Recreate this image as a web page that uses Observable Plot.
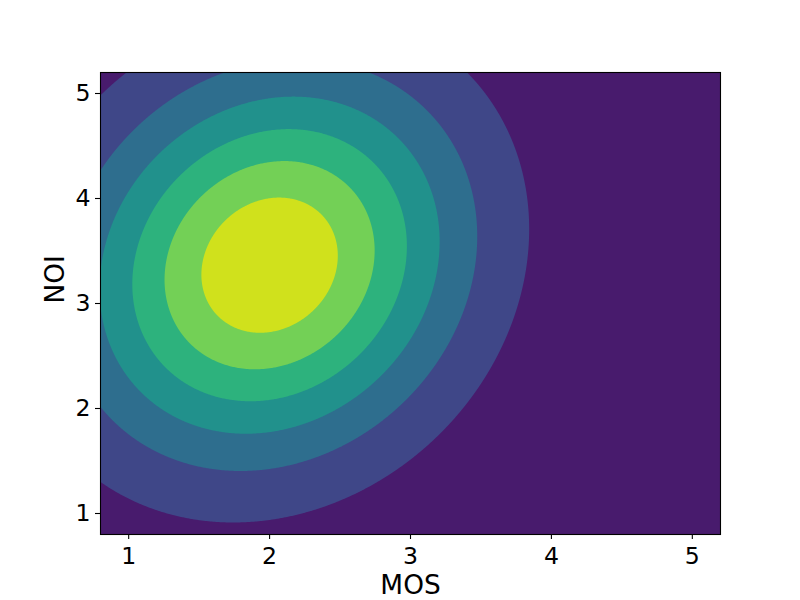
<!DOCTYPE html>
<html>
<head>
<meta charset="utf-8">
<script src="https://cdn.jsdelivr.net/npm/d3@7"></script>
<script src="https://cdn.jsdelivr.net/npm/@observablehq/plot@0.6"></script>
<style>
  html, body { margin: 0; padding: 0; background: white; }
</style>
</head>
<body>
<div id="chart"></div>
<script>
// Bivariate normal density of MOS vs NOI (parameters)
const meanMOSNOI = [2.0, 3.365];      // mean of MOS, mean of NOI
const sdMOSNOI = [0.939, 1.249];      // standard deviations of MOS, NOI
const corrMOSNOI = [0.14];            // correlation
const levels = [0, 0.02, 0.04, 0.06, 0.08, 0.10, 0.12, 0.14];
const xDomain = [0.8, 5.2];
const yDomain = [0.8, 5.2];
const xTicks = [1, 2, 3, 4, 5];
const yTicks = [1, 2, 3, 4, 5];
const xLabel = ["MOS"];
const yLabel = ["NOI"];

const nBands = levels.length - 1;
const bandColors = d3.range(nBands).map(i => d3.interpolateViridis((i + 0.5) / nBands));

function density(x, y) {
  const [mx, my] = meanMOSNOI;
  const [sx, sy] = sdMOSNOI;
  const r = corrMOSNOI[0];
  const zx = (x - mx) / sx, zy = (y - my) / sy;
  const q = (zx * zx - 2 * r * zx * zy + zy * zy) / (1 - r * r);
  return Math.exp(-q / 2) / (2 * Math.PI * sx * sy * Math.sqrt(1 - r * r));
}

const chart = Plot.plot({
  width: 800,
  height: 600,
  marginLeft: 100,
  marginRight: 80,
  marginTop: 72,
  marginBottom: 66,
  style: { fontFamily: "DejaVu Sans", fontSize: "23.6px", background: "white", color: "black" },
  x: { domain: xDomain, label: null },
  y: { domain: yDomain, label: null },
  color: { type: "threshold", domain: levels.slice(1, nBands), range: bandColors },
  marks: [
    Plot.contour({
      fill: density,
      x1: xDomain[0], x2: xDomain[1],
      y1: yDomain[0], y2: yDomain[1],
      thresholds: levels,
      pixelSize: 1,
      stroke: "none"
    }),
    Plot.frame({ stroke: "black", strokeWidth: 1.1 }),
    Plot.axisX(xTicks, { tickSize: 5, tickPadding: 8, strokeWidth: 1.1, tickFormat: d => String(d), label: null }),
    Plot.axisY(yTicks, { tickSize: 5, tickPadding: 5, strokeWidth: 1.1, tickFormat: d => String(d), label: null }),
    Plot.text(xLabel, { text: d => d, frameAnchor: "bottom", dy: 59.6, fontSize: 26.4, fill: "black" }),
    Plot.text(yLabel, { text: d => d, frameAnchor: "left", rotate: -90, dx: -45, fontSize: 26.4, fill: "black" })
  ]
});
document.getElementById("chart").appendChild(chart);
</script>
</body>
</html>
